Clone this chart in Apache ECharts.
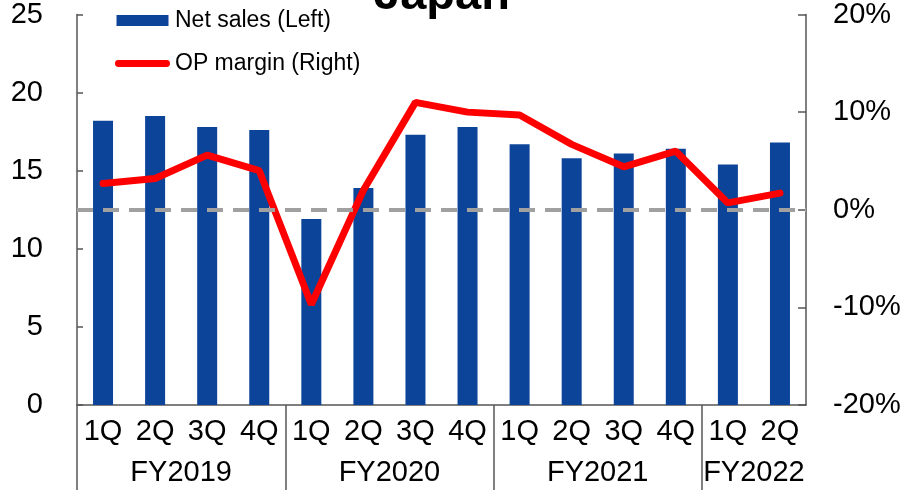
<!DOCTYPE html>
<html>
<head>
<meta charset="utf-8">
<script src="https://cdn.jsdelivr.net/npm/echarts@6/dist/echarts.min.js"></script>
<style>
html,body{margin:0;padding:0;background:#fff;}
#chart{width:904px;height:490px;}
</style>
</head>
<body>
<div id="chart"></div>
<script>
const quarters = ['1Q','2Q','3Q','4Q','1Q','2Q','3Q','4Q','1Q','2Q','3Q','4Q','1Q','2Q'];
const fiscalYears = ['FY2019','FY2020','FY2021','FY2022'];
const quartersPerYear = [4,4,4,2];
const netSales = [18.2,18.5,17.8,17.6,11.9,13.9,17.3,17.8,16.7,15.8,16.1,16.4,15.4,16.8];
const opMargin = [2.7,3.2,5.6,4.0,-9.7,2.0,11.0,10.0,9.7,6.7,4.4,6.0,0.7,1.7];
const leftTicks = {min:0, max:25, interval:5};
const rightTicks = {min:-20, max:20, interval:10};

// half-slot helper axis for fiscal year group labels and separators
const halfSlots = new Array(quarters.length*2 + 1).fill('');
const groupTickIdx = [];
let pos = 0;
fiscalYears.forEach((fy, k) => {
  groupTickIdx.push(pos*2);
  halfSlots[pos*2 + quartersPerYear[k]] = fy;
  pos += quartersPerYear[k];
});

const FONT = '"Liberation Sans", Arial, sans-serif';
const AX = '#555';

const chart = echarts.init(document.getElementById('chart'), null, {renderer:'canvas'});
chart.setOption({
  animation:false,
  title:{
    text:'Japan', left:369, top:-32,
    textStyle:{fontFamily:FONT, fontSize:47, fontWeight:'bold', color:'#000'}
  },
  legend:{
    orient:'vertical', left:115, top:9, padding:0, itemGap:20,
    itemWidth:55, itemHeight:11,
    textStyle:{fontFamily:FONT, fontSize:23, color:'#000'},
    data:[
      {name:'Net sales (Left)', icon:'path://M0,0 H52 V11 H0 Z'},
      {name:'OP margin (Right)', icon:'path://M3.5,0 H53.5 A3.5,3.5 0 0 1 53.5,7 H3.5 A3.5,3.5 0 0 1 3.5,0 Z'}
    ]
  },
  grid:{left:77, right:98, top:13, bottom:85, containLabel:false},
  xAxis:[
    {
      type:'category', data:quarters, position:'bottom',
      axisLine:{show:true, onZero:false, lineStyle:{color:AX, width:1.5}},
      axisTick:{show:false},
      axisLabel:{fontFamily:FONT, fontSize:29, color:'#000', margin:12, interval:0}
    },
    {
      type:'category', data:halfSlots, position:'bottom', boundaryGap:false,
      axisLine:{show:false, onZero:false},
      axisTick:{show:true, length:86, lineStyle:{color:AX, width:1.5},
        interval:(i)=>groupTickIdx.indexOf(i)>=0},
      axisLabel:{fontFamily:FONT, fontSize:29, color:'#000', margin:53,
        interval:(i,v)=>v!==''}
    }
  ],
  yAxis:[
    {
      type:'value', min:leftTicks.min, max:leftTicks.max, interval:leftTicks.interval,
      position:'left',
      splitLine:{show:false},
      axisLine:{show:true, onZero:false, lineStyle:{color:AX, width:1.5}},
      axisTick:{show:true, inside:true, length:6, lineStyle:{color:AX, width:1.5}},
      axisLabel:{fontFamily:FONT, fontSize:29, color:'#000', margin:34}
    },
    {
      type:'value', min:rightTicks.min, max:rightTicks.max, interval:rightTicks.interval,
      position:'right',
      splitLine:{show:false},
      axisLine:{show:true, onZero:false, lineStyle:{color:AX, width:1.5}},
      axisTick:{show:true, inside:true, length:8, lineStyle:{color:AX, width:1.5}},
      axisLabel:{fontFamily:FONT, fontSize:29, color:'#000', margin:27, formatter:'{value}%'}
    }
  ],
  series:[
    {
      name:'Net sales (Left)', type:'bar', xAxisIndex:0, yAxisIndex:0,
      data:netSales, barWidth:20, z:2,
      itemStyle:{color:'#0C4499'}
    },
    {
      name:'zero', type:'line', xAxisIndex:0, yAxisIndex:1, data:[], z:3,
      markLine:{
        silent:true, symbol:'none', label:{show:false},
        lineStyle:{color:'#A0A0A0', width:4, type:[16,10]},
        data:[{yAxis:0}]
      }
    },
    {
      name:'OP margin (Right)', type:'line', xAxisIndex:0, yAxisIndex:1,
      data:opMargin, z:4, symbol:'none', showSymbol:false,
      itemStyle:{color:'#FF0000'},
      lineStyle:{color:'#FF0000', width:7, cap:'round'}
    }
  ]
});
</script>
</body>
</html>
